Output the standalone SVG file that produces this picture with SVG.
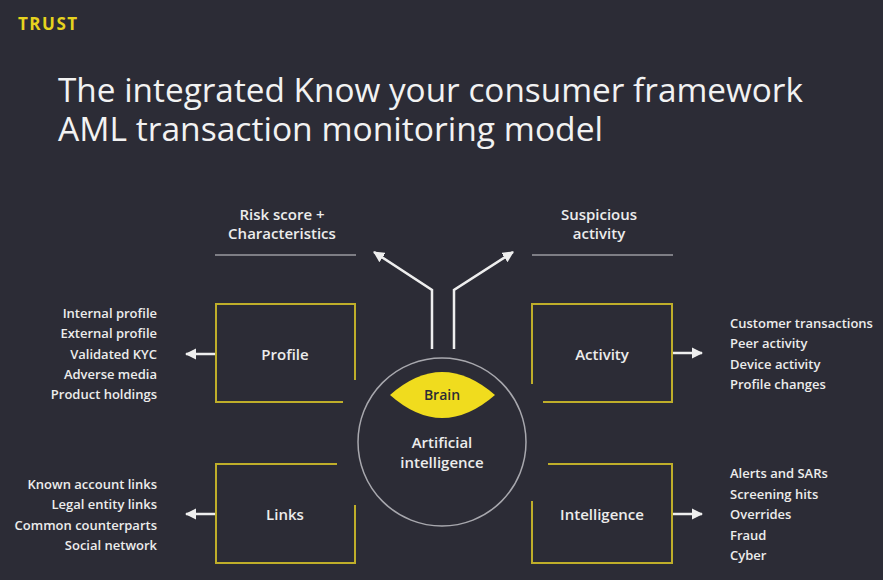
<svg xmlns="http://www.w3.org/2000/svg" width="883" height="580" viewBox="0 0 883 580">
<defs>
<style>
.t{font-family:"Open Sans","Liberation Sans",sans-serif;fill:#ececec;font-weight:600}
.lab{font-size:15px;text-anchor:middle}
.li{font-size:13px}
.r{text-anchor:end}
.box{fill:none;stroke:#bfae2a;stroke-width:2}
.con{fill:none;stroke:#eeeeee;stroke-width:2.5}
.rule{stroke:#9a9aa0;stroke-width:1.5}
</style>
<marker id="ah" viewBox="0 0 10 10" refX="9" refY="5" markerWidth="4.5" markerHeight="4.5" orient="auto" markerUnits="strokeWidth">
<path d="M0,0 L10,5 L0,10 Z" fill="#eeeeee"/>
</marker>
</defs>
<rect width="883" height="580" fill="#2c2c36"/>
<text x="18" y="30" font-family="Open Sans, Liberation Sans, sans-serif" font-weight="700" font-size="17" fill="#e6d31e" letter-spacing="1.5">TRUST</text>
<text x="58" y="102" font-family="Open Sans, Liberation Sans, sans-serif" font-size="32" fill="#f2f2f2" textLength="745" lengthAdjust="spacingAndGlyphs">The integrated Know your consumer framework</text>
<text x="58" y="141" font-family="Open Sans, Liberation Sans, sans-serif" font-size="32" fill="#f2f2f2" textLength="545" lengthAdjust="spacingAndGlyphs">AML transaction monitoring model</text>

<g id="output-risk">
<text class="t lab" x="282" y="220">Risk score +</text>
<text class="t lab" x="282" y="239">Characteristics</text>
<line class="rule" x1="215" y1="255" x2="356" y2="255"/>
</g>
<g id="output-suspicious">
<text class="t lab" x="599" y="220">Suspicious</text>
<text class="t lab" x="599" y="239">activity</text>
<line class="rule" x1="532" y1="255" x2="673" y2="255"/>
</g>

<g id="connectors">
<polyline class="con" points="432,349 432,290 374,252" marker-end="url(#ah)"/>
<polyline class="con" points="454,349 454,290 513,252" marker-end="url(#ah)"/>
<line class="con" x1="216" y1="354" x2="186" y2="354" marker-end="url(#ah)"/>
<line class="con" x1="216" y1="514" x2="186" y2="514" marker-end="url(#ah)"/>
<line class="con" x1="672" y1="353" x2="702" y2="353" marker-end="url(#ah)"/>
<line class="con" x1="672" y1="514" x2="702" y2="514" marker-end="url(#ah)"/>
</g>

<g id="profile">
<path class="box" d="M355,380 V304 H216 V402 H343"/>
<text class="t lab" x="285" y="360">Profile</text>
</g>
<g id="profile-list">
<text class="t li r" x="157" y="318">Internal profile</text>
<text class="t li r" x="157" y="338">External profile</text>
<text class="t li r" x="157" y="359">Validated KYC</text>
<text class="t li r" x="157" y="379">Adverse media</text>
<text class="t li r" x="157" y="399">Product holdings</text>
</g>

<g id="activity">
<path class="box" d="M532,384 V304 H672 V402 H543"/>
<text class="t lab" x="602" y="360">Activity</text>
</g>
<g id="activity-list">
<text class="t li" x="730" y="328">Customer transactions</text>
<text class="t li" x="730" y="348">Peer activity</text>
<text class="t li" x="730" y="369">Device activity</text>
<text class="t li" x="730" y="389">Profile changes</text>
</g>

<g id="links">
<path class="box" d="M337,464 H216 V563 H355 V505"/>
<text class="t lab" x="285" y="520">Links</text>
</g>
<g id="links-list">
<text class="t li r" x="157" y="489">Known account links</text>
<text class="t li r" x="157" y="509">Legal entity links</text>
<text class="t li r" x="157" y="530">Common counterparts</text>
<text class="t li r" x="157" y="550">Social network</text>
</g>

<g id="intelligence">
<path class="box" d="M548,464 H672 V563 H532 V501"/>
<text class="t lab" x="602" y="520">Intelligence</text>
</g>
<g id="intelligence-list">
<text class="t li" x="730" y="478">Alerts and SARs</text>
<text class="t li" x="730" y="499">Screening hits</text>
<text class="t li" x="730" y="519">Overrides</text>
<text class="t li" x="730" y="540">Fraud</text>
<text class="t li" x="730" y="560">Cyber</text>
</g>

<g id="ai">
<circle cx="442" cy="442" r="84" fill="none" stroke="#a8a8ae" stroke-width="1.5"/>
<path d="M390,395 Q442,349 495,395 Q442,441 390,395 Z" fill="#f0dc1e"/>
<text x="442" y="400" text-anchor="middle" font-family="Open Sans, Liberation Sans, sans-serif" font-weight="600" font-size="14" fill="#2c2c36">Brain</text>
<text class="t lab" x="442" y="448">Artificial</text>
<text class="t lab" x="442" y="468">intelligence</text>
</g>
</svg>
